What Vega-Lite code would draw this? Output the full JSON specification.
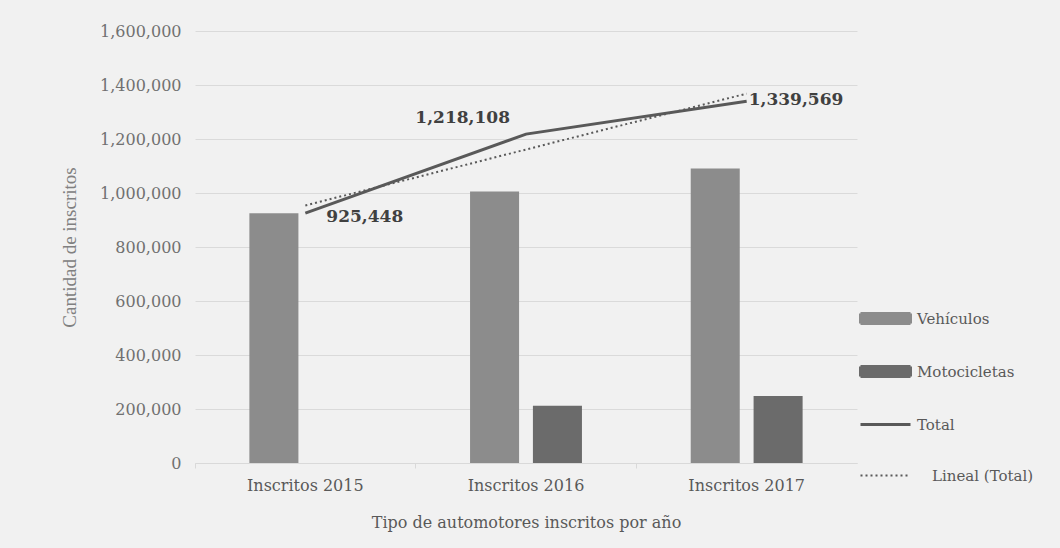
{
  "$schema": "https://vega.github.io/schema/vega-lite/v6.json",
  "width": 662,
  "height": 432,
  "autosize": {"type": "none"},
  "padding": {"left": 195, "top": 31, "right": 203, "bottom": 85},
  "background": "#f1f1f1",
  "config": {"view": {"stroke": null}, "font": "DejaVu Serif"},
  "data": {
    "values": [
      {"anio": "Inscritos 2015", "serie": "Vehículos", "valor": 925448},
      {"anio": "Inscritos 2016", "serie": "Vehículos", "valor": 1006000},
      {"anio": "Inscritos 2017", "serie": "Vehículos", "valor": 1091000},
      {"anio": "Inscritos 2016", "serie": "Motocicletas", "valor": 212108},
      {"anio": "Inscritos 2017", "serie": "Motocicletas", "valor": 248569},
      {"anio": "Inscritos 2015", "serie": "Total", "valor": 925448},
      {"anio": "Inscritos 2016", "serie": "Total", "valor": 1218108},
      {"anio": "Inscritos 2017", "serie": "Total", "valor": 1339569},
      {"anio": "Inscritos 2015", "serie": "Lineal (Total)", "valor": 953981},
      {"anio": "Inscritos 2016", "serie": "Lineal (Total)", "valor": 1161042},
      {"anio": "Inscritos 2017", "serie": "Lineal (Total)", "valor": 1368102}
    ]
  },
  "encoding": {
    "x": {
      "field": "anio",
      "type": "nominal",
      "sort": null,
      "scale": {"paddingInner": 0, "paddingOuter": 0},
      "axis": {
        "title": "Tipo de automotores inscritos por año",
        "labelAngle": 0,
        "ticks": true,
        "bandPosition": 0,
        "tickSize": 5,
        "tickColor": "#d9d9d9",
        "domainColor": "#d9d9d9",
        "domainWidth": 1,
        "labelFont": "DejaVu Serif",
        "labelFontSize": 16,
        "labelColor": "#595959",
        "labelPadding": 9,
        "titleFont": "DejaVu Serif",
        "titleFontSize": 16,
        "titleFontWeight": "normal",
        "titleColor": "#595959",
        "titlePadding": 21,
        "grid": false
      }
    },
    "y": {
      "field": "valor",
      "type": "quantitative",
      "scale": {"domain": [0, 1600000]},
      "axis": {
        "title": "Cantidad de inscritos",
        "format": ",.0f",
        "formatType": "number",
        "values": [0, 200000, 400000, 600000, 800000, 1000000, 1200000, 1400000, 1600000],
        "ticks": false,
        "domain": false,
        "grid": true,
        "gridColor": "#dadada",
        "gridWidth": 1,
        "labelFont": "DejaVu Serif",
        "labelFontSize": 16,
        "labelColor": "#707070",
        "labelPadding": 14,
        "titleFont": "Liberation Sans Narrow",
        "titleFontSize": 19,
        "titleFontWeight": "normal",
        "titleColor": "#808080",
        "titlePadding": 20
      }
    }
  },
  "layer": [
    {
      "transform": [{"filter": "datum.serie === 'Vehículos' || datum.serie === 'Motocicletas'"}],
      "mark": {"type": "bar"},
      "encoding": {
        "xOffset": {
          "field": "serie",
          "type": "nominal",
          "scale": {"domain": ["Vehículos", "Motocicletas"], "paddingInner": 0.22, "paddingOuter": 0.865}
        },
        "color": {
          "field": "serie",
          "type": "nominal",
          "scale": {
            "domain": ["Vehículos", "Motocicletas", "Total", "Lineal (Total)"],
            "range": ["#8c8c8c", "#6b6b6b", "#595959", "#595959"]
          },
          "legend": {
            "title": null,
            "orient": "none",
            "legendX": 683,
            "legendY": 280,
            "symbolSize": 2500,
            "symbolStrokeWidth": 2.5,
            "rowPadding": 2,
            "labelOffset": 24,
            "labelFont": "DejaVu Serif",
            "labelFontSize": 15,
            "labelColor": "#595959",
            "encode": {
              "symbols": {
                "update": {
                  "shape": {"signal": "(datum.value === 'Total' || datum.value === 'Lineal (Total)') ? 'M-1,0H1M0,-0.77M0,0.77' : 'M-1,-0.2H1V0.2H-1ZM0,-0.77M0,0.77'"},
                  "fill": {"signal": "datum.value === 'Vehículos' ? '#8c8c8c' : (datum.value === 'Motocicletas' ? '#6b6b6b' : 'transparent')"},
                  "stroke": {"signal": "(datum.value === 'Total' || datum.value === 'Lineal (Total)') ? '#595959' : 'transparent'"},
                  "strokeWidth": {"signal": "datum.value === 'Lineal (Total)' ? 2 : 3"},
                  "strokeDash": {"signal": "datum.value === 'Lineal (Total)' ? [2, 3] : [1, 0]"},
                  "opacity": {"value": 1}
                }
              },
              "labels": {
                "update": {
                  "dx": {"signal": "datum.value === 'Lineal (Total)' ? 15 : 0"}
                }
              }
            }
          }
        }
      }
    },
    {
      "transform": [{"filter": "datum.serie === 'Lineal (Total)'"}],
      "mark": {"type": "line", "strokeDash": [2, 3], "strokeWidth": 2},
      "encoding": {"color": {"field": "serie", "type": "nominal"}}
    },
    {
      "transform": [{"filter": "datum.serie === 'Total'"}],
      "mark": {"type": "line", "strokeWidth": 3},
      "encoding": {"color": {"field": "serie", "type": "nominal"}}
    },
    {
      "transform": [{"filter": "datum.serie === 'Total' && datum.anio === 'Inscritos 2015'"}],
      "mark": {"type": "text", "align": "left", "baseline": "middle", "dx": 21, "dy": 4, "font": "DejaVu Serif", "fontSize": 17, "fontWeight": "bold", "color": "#404040"},
      "encoding": {"text": {"field": "valor", "type": "quantitative", "format": ",.0f"}}
    },
    {
      "transform": [{"filter": "datum.serie === 'Total' && datum.anio === 'Inscritos 2016'"}],
      "mark": {"type": "text", "align": "right", "baseline": "middle", "dx": -16, "dy": -16, "font": "DejaVu Serif", "fontSize": 17, "fontWeight": "bold", "color": "#404040"},
      "encoding": {"text": {"field": "valor", "type": "quantitative", "format": ",.0f"}}
    },
    {
      "transform": [{"filter": "datum.serie === 'Total' && datum.anio === 'Inscritos 2017'"}],
      "mark": {"type": "text", "align": "left", "baseline": "middle", "dx": 2, "dy": -1, "font": "DejaVu Serif", "fontSize": 17, "fontWeight": "bold", "color": "#404040"},
      "encoding": {"text": {"field": "valor", "type": "quantitative", "format": ",.0f"}}
    }
  ]
}
